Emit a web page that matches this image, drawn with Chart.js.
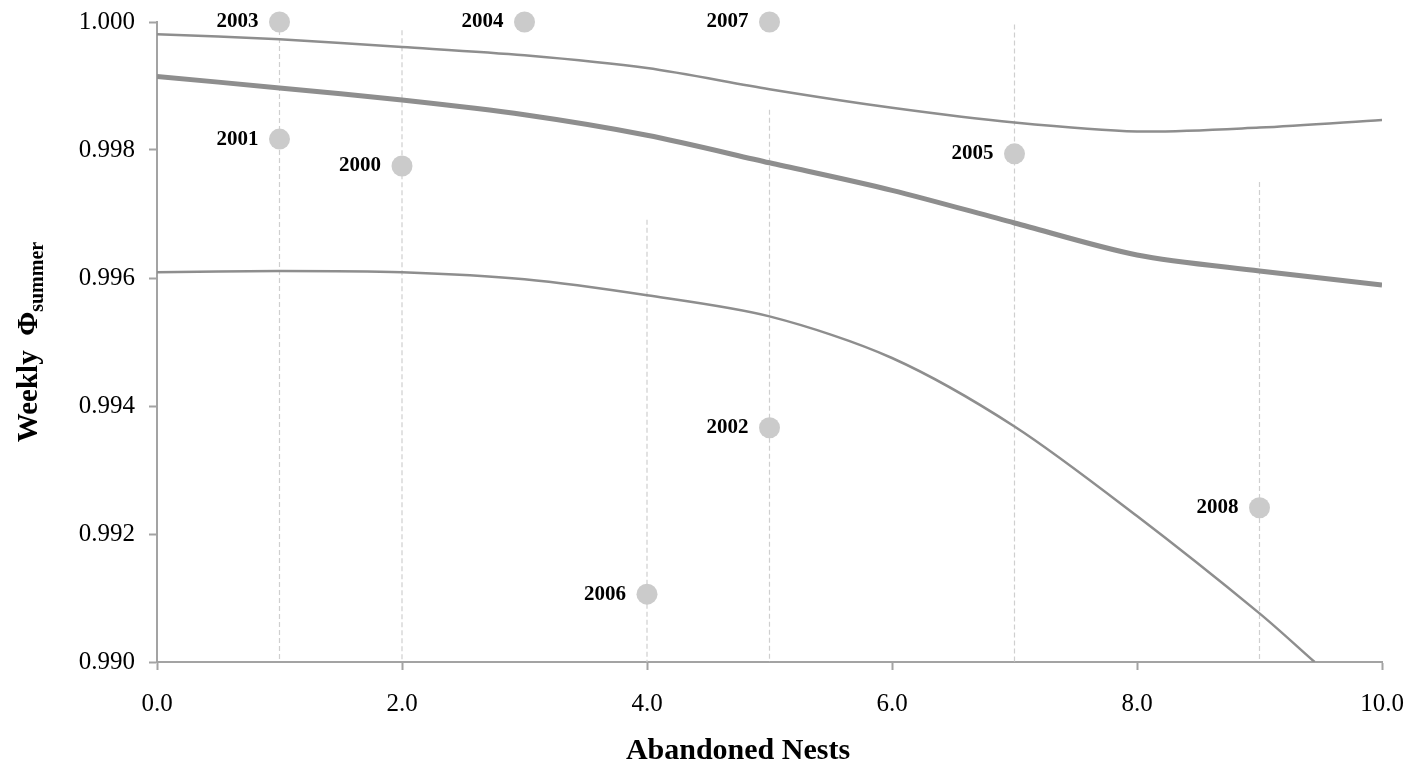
<!DOCTYPE html>
<html>
<head>
<meta charset="utf-8">
<title>Weekly summer survival vs abandoned nests</title>
<script src="https://cdn.jsdelivr.net/npm/chart.js@4.4.1/dist/chart.umd.min.js"></script>
<style>
  html, body { margin: 0; padding: 0; background: #ffffff; }
  #wrap { width: 1416px; height: 768px; }
</style>
</head>
<body>
<div id="wrap"><canvas id="chart" width="1416" height="768"></canvas></div>
<script>
// Yearly estimates: number of abandoned nests vs weekly summer survival
const years     = ['2000', '2001', '2002', '2003', '2004', '2005', '2006', '2007', '2008'];
const abandoned = [2, 1, 5, 1, 3, 7, 4, 5, 9];
const phiSummer = [0.99775, 0.99817, 0.99366, 1.0000, 1.0000, 0.99794, 0.99106, 1.0000, 0.99241];

// Upper confidence limits for the yearly estimates (lower limits fall below the axis)
const ciX     = [1, 2, 4, 5, 7, 9];
const ciUpper = [1.0000, 0.99987, 0.99691, 0.99863, 0.99996, 0.99750];

// Fitted relationship and its confidence band
const fitX      = [0, 1, 2, 3, 4, 5, 6, 7, 8, 9, 10];
const fitMean   = [0.99915, 0.99897, 0.99878, 0.99855, 0.99823, 0.99780, 0.99737, 0.99686, 0.99636, 0.99611, 0.99589];
const fitUpper  = [0.99981, 0.99973, 0.99961, 0.99948, 0.99928, 0.99895, 0.99866, 0.99843, 0.99829, 0.99835, 0.99847];
const lowerX    = [0, 1, 2, 3, 4, 5, 6, 7, 8, 9, 9.45];
const fitLower  = [0.99609, 0.99611, 0.99609, 0.99598, 0.99573, 0.99540, 0.99475, 0.99368, 0.99228, 0.99076, 0.99000];

// Axis ranges and tick labels
const xMin = 0, xMax = 10, xStep = 2;
const yMin = 0.990, yMax = 1.000, yStep = 0.002;

const SERIF = "'Liberation Serif', 'Times New Roman', serif";
const AXIS_GREY = '#a3a3a3';
const LINE_GREY = '#8e8e8e';

const pts = (xs, ys) => xs.map((x, i) => ({ x: x, y: ys[i] }));

const ciDatasets = ciX.map((x, i) => ({
  label: 'ci' + i,
  data: [{ x: x, y: ciUpper[i] }, { x: x, y: yMin }],
  showLine: true,
  borderColor: '#cfcfcf',
  borderWidth: 1.2,
  borderDash: [5, 3],
  pointRadius: 0,
  order: 3
}));

const curve = (label, xs, ys, width) => ({
  label: label,
  data: pts(xs, ys),
  showLine: true,
  borderColor: LINE_GREY,
  borderWidth: width,
  tension: 0.3,
  pointRadius: 0,
  order: 2
});

// Year labels next to each estimate, and the two axis titles
const annotate = {
  id: 'annotate',
  afterDatasetsDraw(chart) {
    const ctx = chart.ctx;
    const meta = chart.getDatasetMeta(0);
    ctx.save();
    ctx.fillStyle = '#000';
    ctx.font = 'bold 21px ' + SERIF;
    ctx.textAlign = 'right';
    ctx.textBaseline = 'middle';
    meta.data.forEach((el, i) => {
      ctx.fillText(years[i], el.x - 21, el.y);
    });
    ctx.restore();
  },
  afterDraw(chart) {
    const ctx = chart.ctx;
    const area = chart.chartArea;
    ctx.save();
    ctx.fillStyle = '#000';

    // x-axis title
    ctx.font = 'bold 30px ' + SERIF;
    ctx.textAlign = 'center';
    ctx.textBaseline = 'alphabetic';
    ctx.fillText('Abandoned Nests', 738, 759);

    // y-axis title with subscript, rotated
    const mainFont = 'bold 29px ' + SERIF;
    const subFont = 'bold 20px ' + SERIF;
    ctx.font = mainFont;
    const w1 = ctx.measureText('Weekly  Φ').width;
    ctx.font = subFont;
    const w2 = ctx.measureText('summer').width;
    const total = w1 + w2;
    ctx.translate(37, (area.top + area.bottom) / 2);
    ctx.rotate(-Math.PI / 2);
    ctx.textAlign = 'left';
    ctx.font = mainFont;
    ctx.fillText('Weekly  Φ', -total / 2, 0);
    ctx.font = subFont;
    ctx.fillText('summer', -total / 2 + w1, 6);
    ctx.restore();
  }
};

new Chart(document.getElementById('chart'), {
  type: 'scatter',
  data: {
    datasets: [
      {
        label: 'Yearly estimates',
        data: pts(abandoned, phiSummer),
        backgroundColor: '#cbcbcb',
        borderWidth: 0,
        pointRadius: 10.5,
        pointHoverRadius: 10.5,
        clip: false,
        order: 1
      },
      curve('Fit', fitX, fitMean, 5),
      curve('Upper limit', fitX, fitUpper, 2.5),
      curve('Lower limit', lowerX, fitLower, 2.5),
      ...ciDatasets
    ]
  },
  options: {
    responsive: false,
    animation: false,
    events: [],
    layout: { autoPadding: false, padding: { top: 22, right: 34, left: 0, bottom: 0 } },
    plugins: {
      legend: { display: false },
      tooltip: { enabled: false }
    },
    scales: {
      x: {
        type: 'linear',
        min: xMin,
        max: xMax,
        afterFit(scale) {
          scale.height = 106;
          scale.paddingLeft = 0;
          scale.paddingRight = 0;
        },
        border: { display: true, color: AXIS_GREY, width: 2 },
        grid: { drawOnChartArea: false, drawTicks: true, tickLength: 8, tickColor: AXIS_GREY, tickWidth: 2 },
        ticks: {
          stepSize: xStep,
          padding: 19,
          color: '#000',
          font: { family: SERIF, size: 25 },
          callback: v => Number(v).toFixed(1)
        }
      },
      y: {
        type: 'linear',
        min: yMin,
        max: yMax,
        afterFit(scale) {
          scale.width = 157;
          scale.paddingTop = 0;
          scale.paddingBottom = 0;
        },
        border: { display: true, color: AXIS_GREY, width: 2 },
        grid: { drawOnChartArea: false, drawTicks: true, tickLength: 8, tickColor: AXIS_GREY, tickWidth: 2 },
        ticks: {
          stepSize: yStep,
          padding: 14,
          color: '#000',
          font: { family: SERIF, size: 25 },
          callback: v => Number(v).toFixed(3)
        }
      }
    }
  },
  plugins: [annotate]
});
</script>
</body>
</html>
